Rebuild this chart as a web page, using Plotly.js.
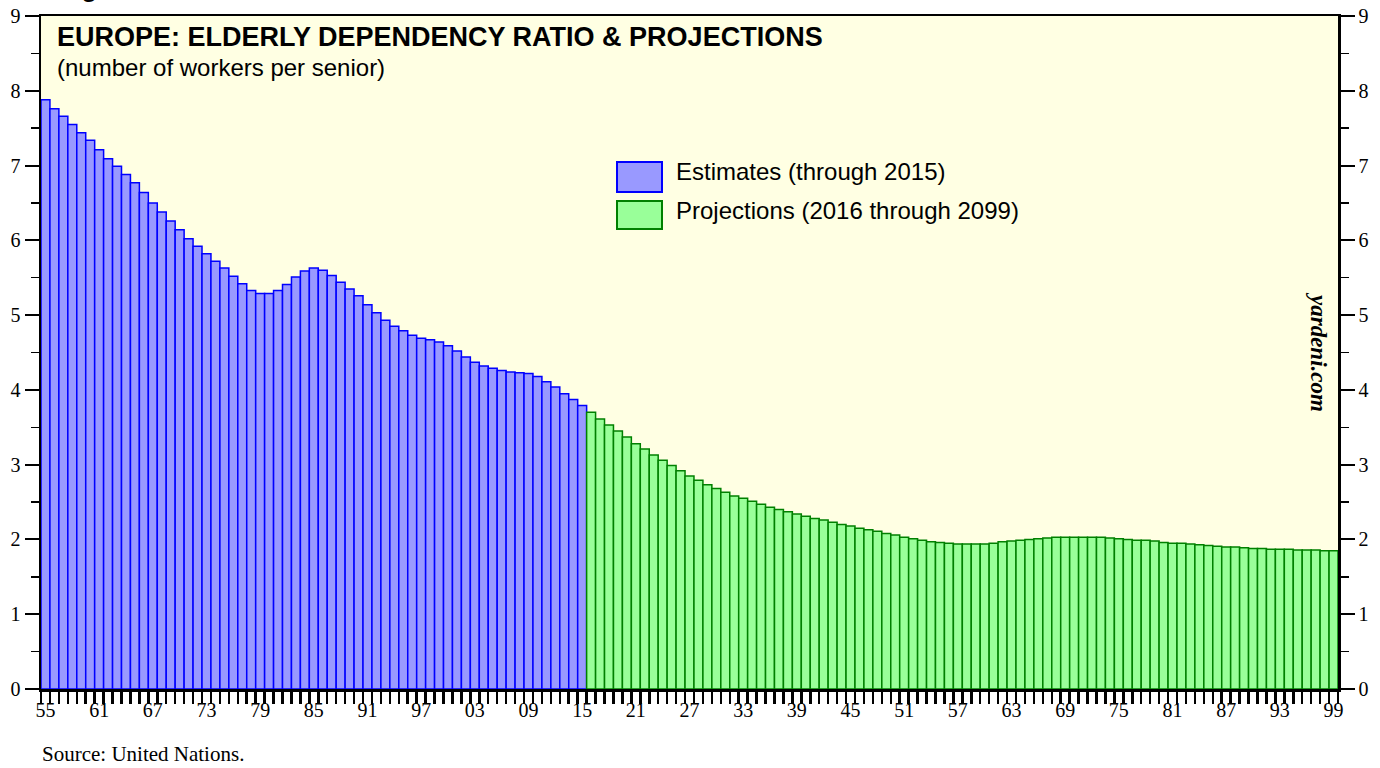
<!DOCTYPE html>
<html>
<head>
<meta charset="utf-8">
<script src="https://cdn.plot.ly/plotly-3.0.1.min.js"></script>
<style>html,body{margin:0;padding:0;background:#fff;}#chart{width:1380px;height:768px;}</style>
</head>
<body>
<div id="chart"></div>
<script>
// ---- DATA ----
const estimateYears = [];
for (let y = 1955; y <= 2015; y++) estimateYears.push(y);
const estimateValues = [
  7.88, 7.76, 7.66, 7.55, 7.44, 7.34, 7.21, 7.09, 6.99, 6.88,
  6.77, 6.64, 6.50, 6.38, 6.26, 6.14, 6.02, 5.92, 5.82, 5.72,
  5.63, 5.52, 5.42, 5.33, 5.29, 5.29, 5.33, 5.41, 5.51, 5.59,
  5.63, 5.60, 5.53, 5.44, 5.35, 5.26, 5.14, 5.03, 4.93, 4.85,
  4.79, 4.73, 4.69, 4.67, 4.64, 4.59, 4.52, 4.44, 4.37, 4.32,
  4.29, 4.26, 4.24, 4.23, 4.22, 4.18, 4.11, 4.04, 3.95, 3.87,
  3.79
];
const projectionYears = [];
for (let y = 2016; y <= 2099; y++) projectionYears.push(y);
const projectionValues = [
  3.70, 3.61, 3.53, 3.45, 3.37, 3.28, 3.21, 3.13, 3.06, 2.99,
  2.92, 2.85, 2.79, 2.73, 2.68, 2.63, 2.58, 2.55, 2.51, 2.47,
  2.43, 2.40, 2.37, 2.34, 2.31, 2.28, 2.26, 2.23, 2.20, 2.18,
  2.15, 2.13, 2.11, 2.08, 2.06, 2.03, 2.01, 1.99, 1.97, 1.96,
  1.95, 1.94, 1.94, 1.94, 1.94, 1.95, 1.97, 1.98, 1.99, 2.00,
  2.01, 2.02, 2.03, 2.03, 2.03, 2.03, 2.03, 2.03, 2.02, 2.01,
  2.00, 1.99, 1.99, 1.98, 1.96, 1.95, 1.95, 1.94, 1.93, 1.92,
  1.91, 1.90, 1.90, 1.89, 1.88, 1.88, 1.87, 1.87, 1.87, 1.86,
  1.86, 1.86, 1.85, 1.85
];
const labelYears = [1955,1961,1967,1973,1979,1985,1991,1997,2003,2009,2015,2021,2027,2033,2039,2045,2051,2057,2063,2069,2075,2081,2087,2093,2099];
const labelTexts = ['55','61','67','73','79','85','91','97','03','09','15','21','27','33','39','45','51','57','63','69','75','81','87','93','99'];
const yTicks = [0,1,2,3,4,5,6,7,8,9];

// ---- TICKS (tick marks on bar boundaries, labels at bar centres) ----
const allYears = estimateYears.concat(projectionYears);
const tickVals = allYears.map(y => y - 0.5).concat([allYears[allYears.length-1] + 0.5]);
const xRange = [tickVals[0], tickVals[tickVals.length-1]];

// ---- GEOMETRY HELPERS (paper coords from pixels) ----
const W = 1380, H = 768, ML = 41, MR = 42, MT = 16, MB = 79;
const PW = W - ML - MR, PH = H - MT - MB;
const px = X => (X - ML) / PW;
const py = Y => (H - MB - Y) / PH;

const serif = 'Liberation Serif, Times New Roman, serif';
const sans = 'Liberation Sans, Arial, Helvetica, sans-serif';

const traces = [
  {type:'bar', x:estimateYears, y:estimateValues, name:'Estimates (through 2015)',
   marker:{color:'#9999FF', line:{color:'#0000FF', width:1.5}}, hoverinfo:'x+y'},
  {type:'bar', x:projectionYears, y:projectionValues, name:'Projections (2016 through 2099)',
   marker:{color:'#99FF99', line:{color:'#008000', width:1.5}}, hoverinfo:'x+y'},
  {type:'scatter', x:[], y:[], xaxis:'x2', yaxis:'y2', showlegend:false, hoverinfo:'skip'}
];

const yCommon = {
  range:[0,9], tickmode:'array', tickvals:yTicks, ticktext:yTicks.map(String),
  ticks:'outside', ticklen:14, tickwidth:2, tickcolor:'#000',
  minor:{ticks:'outside', ticklen:8, tickwidth:1.5, tickcolor:'#000', tickmode:'array', tickvals:[0.5,1.5,2.5,3.5,4.5,5.5,6.5,7.5,8.5], showgrid:false},
  tickfont:{family:serif, size:20, color:'#000'},
  showline:true, linewidth:2.5, linecolor:'#000',
  showgrid:false, zeroline:false, fixedrange:true
};

const layout = {
  width:W, height:H,
  margin:{l:ML, r:MR, t:MT, b:MB, pad:0},
  paper_bgcolor:'#FFFFFF', plot_bgcolor:'#FFFFE3',
  barmode:'overlay', bargap:0, showlegend:false,
  xaxis:{
    range:xRange, tickmode:'array', tickvals:tickVals, showticklabels:false,
    ticks:'outside', ticklen:12, tickwidth:2.5, tickcolor:'#000',
    showline:true, linewidth:2.5, linecolor:'#000', mirror:true,
    showgrid:false, zeroline:false, fixedrange:true
  },
  xaxis2:{
    overlaying:'x', anchor:'y', side:'bottom',
    range:xRange, tickmode:'array', tickvals:labelYears, ticktext:labelTexts,
    ticks:'outside', ticklen:3, tickwidth:1, tickcolor:'rgba(0,0,0,0)', tickangle:0,
    tickfont:{family:serif, size:20, color:'#000'},
    showline:false, showgrid:false, zeroline:false, fixedrange:true
  },
  yaxis:Object.assign({}, yCommon, {side:'left'}),
  yaxis2:Object.assign({}, yCommon, {side:'right', overlaying:'y'}),
  shapes:[
    {type:'rect', xref:'paper', yref:'paper', x0:px(617), x1:px(662), y0:py(192), y1:py(162),
     fillcolor:'#9999FF', line:{color:'#0000FF', width:2}},
    {type:'rect', xref:'paper', yref:'paper', x0:px(617), x1:px(662), y0:py(229), y1:py(201),
     fillcolor:'#99FF99', line:{color:'#008000', width:2}}
  ],
  annotations:[
    {xref:'paper', yref:'paper', x:px(55), y:py(-13), xanchor:'left', yanchor:'middle', showarrow:false,
     text:'<b>Figure 10.</b>', font:{family:sans, size:27, color:'#000'}},
    {xref:'paper', yref:'paper', x:px(55), y:py(37), xanchor:'left', yanchor:'middle', showarrow:false,
     text:'<b>EUROPE: ELDERLY DEPENDENCY RATIO &amp; PROJECTIONS</b>', font:{family:sans, size:27, color:'#000'}},
    {xref:'paper', yref:'paper', x:px(55), y:py(68), xanchor:'left', yanchor:'middle', showarrow:false,
     text:'(number of workers per senior)', font:{family:sans, size:24, color:'#000'}},
    {xref:'paper', yref:'paper', x:px(674), y:py(172), xanchor:'left', yanchor:'middle', showarrow:false,
     text:'Estimates (through 2015)', font:{family:sans, size:24, color:'#000'}},
    {xref:'paper', yref:'paper', x:px(674), y:py(211), xanchor:'left', yanchor:'middle', showarrow:false,
     text:'Projections (2016 through 2099)', font:{family:sans, size:24, color:'#000'}},
    {xref:'paper', yref:'paper', x:px(1319), y:py(352), xanchor:'center', yanchor:'middle', showarrow:false,
     textangle:90, text:'<b><i>yardeni.com</i></b>', font:{family:serif, size:23, color:'#000'}},
    {xref:'paper', yref:'paper', x:px(40), y:py(754), xanchor:'left', yanchor:'middle', showarrow:false,
     text:'Source: United Nations.', font:{family:serif, size:21, color:'#000'}}
  ]
};

Plotly.newPlot('chart', traces, layout, {displayModeBar:false, staticPlot:true});
</script>
</body>
</html>
